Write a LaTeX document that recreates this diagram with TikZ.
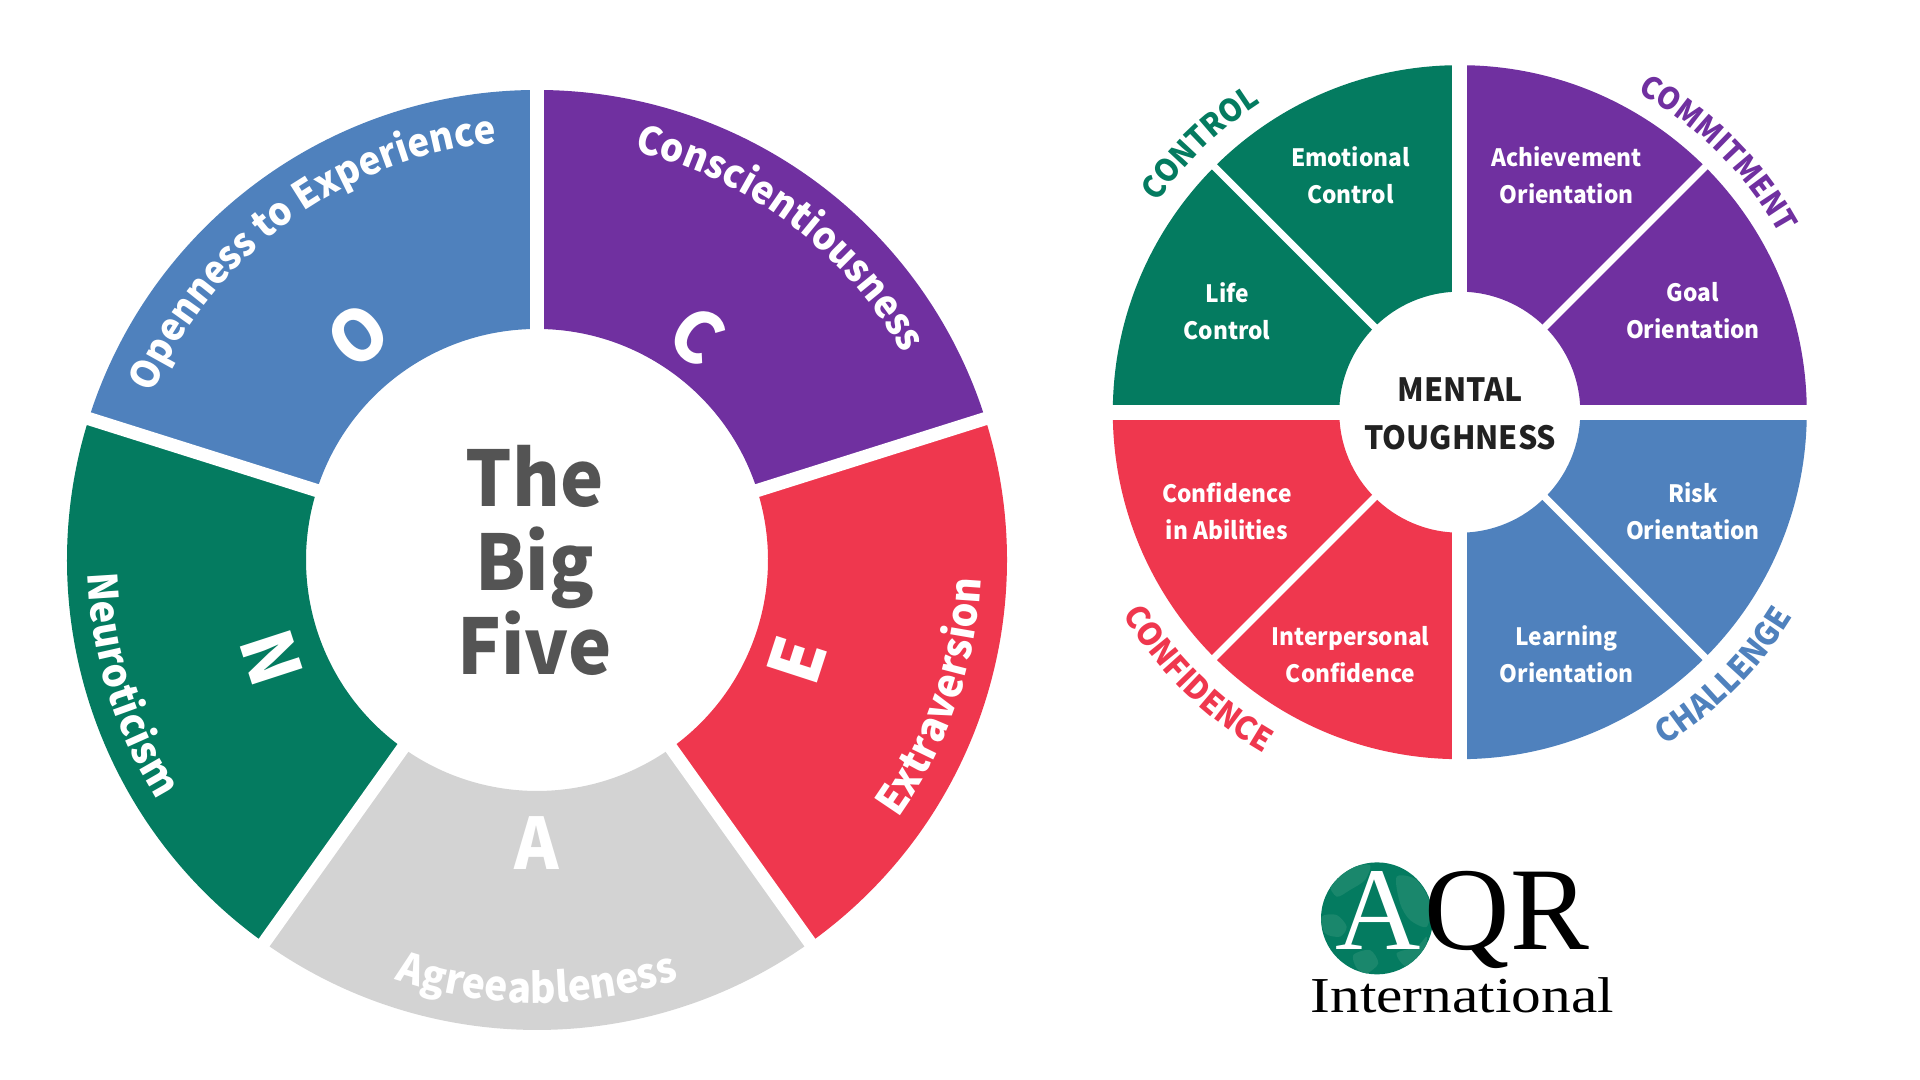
\documentclass[tikz,border=0pt]{standalone}
\usepackage{fontspec}
\usepackage{xcolor}
\usetikzlibrary{decorations.text}
\setmainfont{Noto Sans CJK SC}[FakeStretch=0.95]
\newfontfamily\logofont{Liberation Serif}
\definecolor{wheelgreen}{HTML}{047B60}
\definecolor{wheelpurple}{HTML}{7030A0}
\definecolor{wheelred}{HTML}{EF374E}
\definecolor{wheelblue}{HTML}{4F81BD}
\definecolor{wheelgrey}{HTML}{D3D3D3}
\definecolor{globeland}{HTML}{1A876C}
\newcommand{\ringfont}[2]{\bfseries\fontsize{#1pt}{#1pt}\selectfont\color{#2}}
% start angle, end angle, radius, format, text
\newcommand{\ringtext}[5]{\path[decorate, decoration={text along path, text align=center, text={|#4|#5}}]
  (#1:#3) arc[start angle=#1, end angle=#2, radius=#3];}
\tikzset{
  gapwide/.style  = {draw=white, line width=1.32mm},
  gapthin/.style  = {draw=white, line width=0.7mm},
  letter/.style   = {text=white, font=\bfseries\fontsize{20.2pt}{20.2pt}\selectfont, inner sep=0pt},
  facet/.style    = {text=white, align=center, inner sep=0pt, font=\bfseries\fontsize{6.8pt}{10.5pt}\selectfont},
  logoq/.style    = {anchor=base west, inner sep=0pt, font=\logofont\fontsize{33.6pt}{33.6pt}\selectfont}
}

\begin{document}
\begin{tikzpicture}[x=0.01cm, y=0.01cm]  % one unit is one pixel of the 1920x1080 frame
  \useasboundingbox (0,0) rectangle (1920,1080);

  %  --  Left wheel
  \begin{scope}[shift={(537,520)}]
    \foreach \a/\b/\c in {162.5/90/wheelblue, 90/17.5/wheelpurple, 17.5/-54.5/wheelred,
                          -54.5/-125.5/wheelgrey, -125.5/-197.5/wheelgreen}{
      \fill[\c] (\a:470) arc[start angle=\a, end angle=\b, radius=470]
        -- (\b:231) arc[start angle=\b, end angle=\a, radius=231] -- cycle;
    }
    \foreach \a in {90,17.5,-54.5,-125.5,162.5}{
      \draw[gapwide] (\a:225) -- (\a:476);
    }
    \ringtext{165}{87}{419}{\ringfont{11}{white}}{Openness to Experience}
    \ringtext{93}{13}{420}{\ringfont{11}{white}}{Conscientiousness}
    \ringtext{-58}{20}{444}{\ringfont{11.8}{white}}{Extraversion}
    \ringtext{-125}{-55}{443}{\ringfont{11.7}{white}}{Agreeableness}
    \ringtext{-202}{-124}{449}{\ringfont{11.5}{white}}{Neuroticism}

    \node[letter, rotate=38]  (letterO) at (-179,225)  {O};
    \node[letter, rotate=-36] (letterC) at (160,225)   {C};
    \node[letter, rotate=72]  (letterE) at (260,-100)  {E};
    \node[letter]             (letterA) at (0,-283)    {A};
    \node[letter, rotate=-72] (letterN) at (-265,-98)  {N};
    \node[align=center, inner sep=0pt, text=black!67, font=\bfseries\fontsize{21.8pt}{23.9pt}\selectfont]
      (bigfive) at (-2.5,0) {The\\Big\\Five};
  \end{scope}

  %  --  Right wheel
  \begin{scope}[shift={(1459.8,667.8)}]
    \foreach \a/\b/\c in {180/90/wheelgreen, 90/0/wheelpurple, 0/-90/wheelblue, -90/-180/wheelred}{
      \fill[\c] (\a:347) arc[start angle=\a, end angle=\b, radius=347]
        -- (\b:120.5) arc[start angle=\b, end angle=\a, radius=120.5] -- cycle;
    }
    \foreach \a in {0,90,180,270}{
      \draw[gapwide, line width=1.5mm] (\a:115) -- (\a:352);
    }
    \foreach \a in {45,135,225,315}{
      \draw[gapthin] (\a:115) -- (\a:352);
    }
    \ringtext{175}{93}{368}{\ringfont{8.8}{wheelgreen}}{CONTROL}
    \ringtext{92}{-2}{366}{\ringfont{8.6}{wheelpurple}}{COMMITMENT}
    \ringtext{-179}{-90}{393}{\ringfont{9.1}{wheelred}}{CONFIDENCE}
    \ringtext{-90}{0}{391}{\ringfont{9.1}{wheelblue}}{CHALLENGE}

    \node[align=center, inner sep=0pt, text=black!87, font=\bfseries\fontsize{9.1pt}{13.6pt}\selectfont]
      (mental) at (0.5,-2) {MENTAL\\TOUGHNESS};
  \end{scope}

  \node[facet] (emotional)     at (1350.5,904.5) {Emotional\\Control};
  \node[facet] (achievement)   at (1566.6,904.5) {Achievement\\Orientation};
  \node[facet] (life)          at (1227,769)     {Life\\Control};
  \node[facet] (goal)          at (1693,769)     {Goal\\Orientation};
  \node[facet] (abilities)     at (1227,569)     {Confidence\\in Abilities};
  \node[facet] (risk)          at (1693,569)     {Risk\\Orientation};
  \node[facet] (interpersonal) at (1350.5,425.5) {Interpersonal\\Confidence};
  \node[facet] (learning)      at (1566.6,425.5) {Learning\\Orientation};

  %  --  Logo
  \fill[wheelgreen] (1377,161.6) circle[radius=56];
  \begin{scope}
    \clip (1377,161.6) circle[radius=56];
    \fill[globeland] plot[smooth cycle] coordinates {(1330,196.7) (1350,211.7) (1370,215) (1365,200) (1350,190) (1336.7,183.3)};
    \fill[globeland] plot[smooth cycle] coordinates {(1396.7,203.3) (1416.7,200) (1430,176.7) (1426.7,153.3) (1410,160) (1400,176.7)};
    \fill[globeland] plot[smooth cycle] coordinates {(1321.7,163.3) (1336.7,165) (1346.7,153.3) (1340,143.3) (1325,146.7)};
    \fill[globeland] plot[smooth cycle] coordinates {(1353.3,125) (1370,130) (1378.3,116.7) (1366.7,106.7) (1356.7,111.7)};
    \fill[globeland] plot[smooth cycle] coordinates {(1396.7,126.7) (1416.7,133.3) (1426.7,143.3) (1423.3,126.7) (1406.7,113.3)};
  \end{scope}
  \node[logoq, text=white] (logoA) at (1335,130) {A};
  \node[logoq] (logoQ) at (1424,130) {Q};
  \node[logoq] (logoR) at (1510,130) {R};
  \node[logoq, font=\logofont\addfontfeatures{FakeStretch=1.18}\fontsize{14.3pt}{14.3pt}\selectfont]
    (international) at (1310,67) {International};
\end{tikzpicture}
\end{document}
